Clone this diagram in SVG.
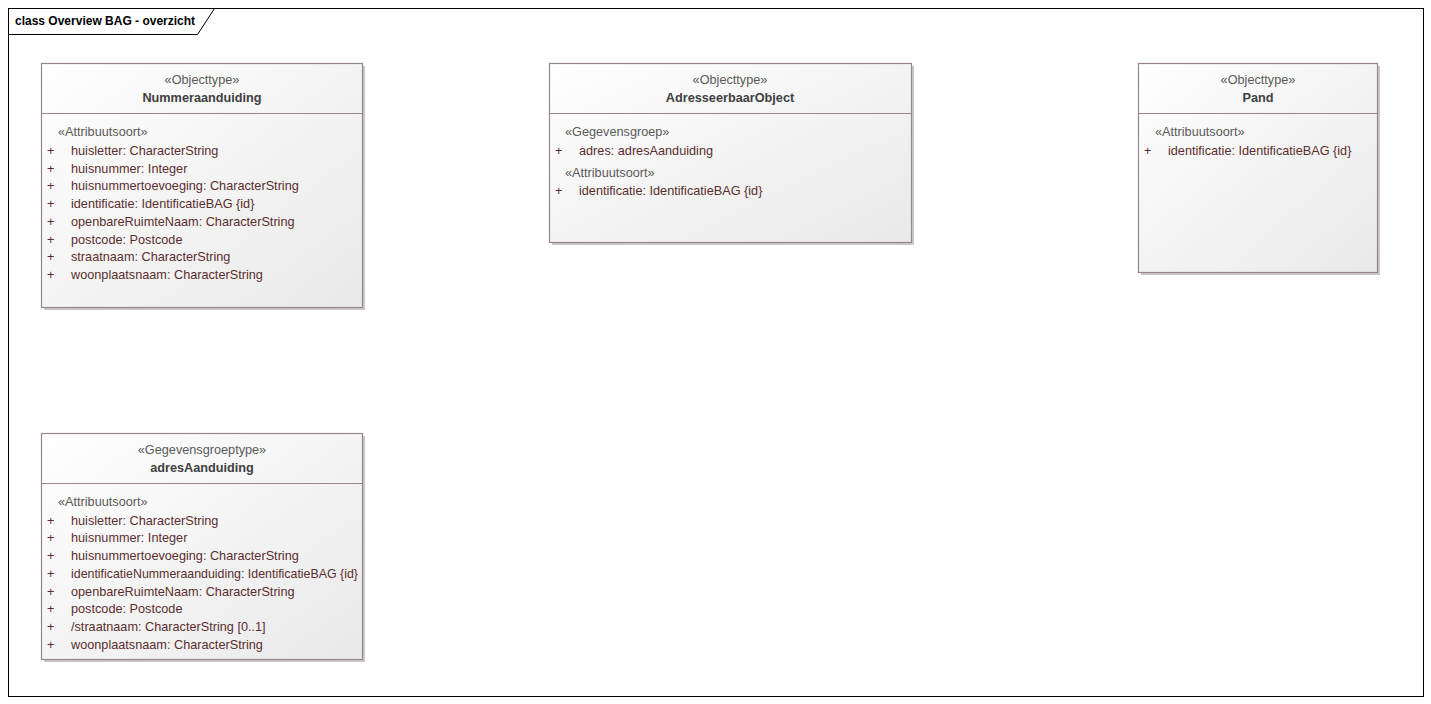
<svg xmlns="http://www.w3.org/2000/svg" width="1431" height="704" viewBox="0 0 1431 704">
<defs>
<linearGradient id="fill" x1="0" y1="0" x2="1" y2="1">
<stop offset="0" stop-color="#ffffff"/>
<stop offset="1" stop-color="#e9e9e9"/>
</linearGradient>
</defs>
<style>
text{font-family:"Liberation Sans",Arial,sans-serif;font-size:12.7px}
.box{fill:url(#fill);stroke:#9a8585;stroke-width:1.2}
.shadow{fill:#c8c8c8}
.div{stroke:#9a8585;stroke-width:1.2}
.st{fill:#595959;text-anchor:middle}
.nm{fill:#404040;font-weight:bold;text-anchor:middle}
.sg{fill:#595959}
.at{fill:#5a2e2e}
.frame{fill:none;stroke:#000;stroke-width:1}
.title{font-weight:bold;fill:#000;font-size:12px}
</style>
<rect width="1431" height="704" fill="#ffffff"/>
<g id="frame">
<rect class="frame" x="8.5" y="8.5" width="1415" height="688"/>
<path class="frame" d="M8.5 34.5 H197.5 L214.5 8.5"/>
<text class="title" x="15" y="25">class Overview BAG - overzicht</text>
</g>
<g id="connectors"></g>
<g id="Nummeraanduiding">
<rect class="shadow" x="44" y="66" width="321" height="244"/>
<rect class="box" x="41.5" y="63.5" width="321" height="244"/>
<line class="div" x1="41.5" y1="113.5" x2="362.5" y2="113.5"/>
<text class="st" x="202" y="84">«Objecttype»</text>
<text class="nm" x="202" y="102">Nummeraanduiding</text>
<text class="sg" x="58" y="136">«Attribuutsoort»</text>
<g class="at">
<text x="47" y="155">+</text><text x="71" y="155">huisletter: CharacterString</text>
<text x="47" y="173">+</text><text x="71" y="173">huisnummer: Integer</text>
<text x="47" y="190">+</text><text x="71" y="190">huisnummertoevoeging: CharacterString</text>
<text x="47" y="208">+</text><text x="71" y="208">identificatie: IdentificatieBAG {id}</text>
<text x="47" y="226">+</text><text x="71" y="226">openbareRuimteNaam: CharacterString</text>
<text x="47" y="244">+</text><text x="71" y="244">postcode: Postcode</text>
<text x="47" y="261">+</text><text x="71" y="261">straatnaam: CharacterString</text>
<text x="47" y="279">+</text><text x="71" y="279">woonplaatsnaam: CharacterString</text>
</g>
</g>
<g id="AdresseerbaarObject">
<rect class="shadow" x="552" y="66" width="362" height="179"/>
<rect class="box" x="549.5" y="63.5" width="362" height="179"/>
<line class="div" x1="549.5" y1="113.5" x2="911.5" y2="113.5"/>
<text class="st" x="730" y="84">«Objecttype»</text>
<text class="nm" x="730" y="102">AdresseerbaarObject</text>
<text class="sg" x="565" y="136">«Gegevensgroep»</text>
<g class="at">
<text x="555" y="155">+</text><text x="579" y="155">adres: adresAanduiding</text>
</g>
<text class="sg" x="565" y="177">«Attribuutsoort»</text>
<g class="at">
<text x="555" y="195">+</text><text x="579" y="195">identificatie: IdentificatieBAG {id}</text>
</g>
</g>
<g id="Pand">
<rect class="shadow" x="1141" y="66" width="239" height="209"/>
<rect class="box" x="1138.5" y="63.5" width="239" height="209"/>
<line class="div" x1="1138.5" y1="113.5" x2="1377.5" y2="113.5"/>
<text class="st" x="1258" y="84">«Objecttype»</text>
<text class="nm" x="1258" y="102">Pand</text>
<text class="sg" x="1155" y="136">«Attribuutsoort»</text>
<g class="at">
<text x="1144" y="155">+</text><text x="1168" y="155">identificatie: IdentificatieBAG {id}</text>
</g>
</g>
<g id="adresAanduiding">
<rect class="shadow" x="44" y="436" width="321" height="226"/>
<rect class="box" x="41.5" y="433.5" width="321" height="226"/>
<line class="div" x1="41.5" y1="483.5" x2="362.5" y2="483.5"/>
<text class="st" x="202" y="454">«Gegevensgroeptype»</text>
<text class="nm" x="202" y="472">adresAanduiding</text>
<text class="sg" x="58" y="506">«Attribuutsoort»</text>
<g class="at">
<text x="47" y="525">+</text><text x="71" y="525">huisletter: CharacterString</text>
<text x="47" y="542">+</text><text x="71" y="542">huisnummer: Integer</text>
<text x="47" y="560">+</text><text x="71" y="560">huisnummertoevoeging: CharacterString</text>
<text x="47" y="578">+</text><text x="71" y="578" textLength="287" lengthAdjust="spacingAndGlyphs">identificatieNummeraanduiding: IdentificatieBAG {id}</text>
<text x="47" y="596">+</text><text x="71" y="596">openbareRuimteNaam: CharacterString</text>
<text x="47" y="613">+</text><text x="71" y="613">postcode: Postcode</text>
<text x="47" y="631">+</text><text x="71" y="631">/straatnaam: CharacterString [0..1]</text>
<text x="47" y="649">+</text><text x="71" y="649">woonplaatsnaam: CharacterString</text>
</g>
</g>
</svg>
